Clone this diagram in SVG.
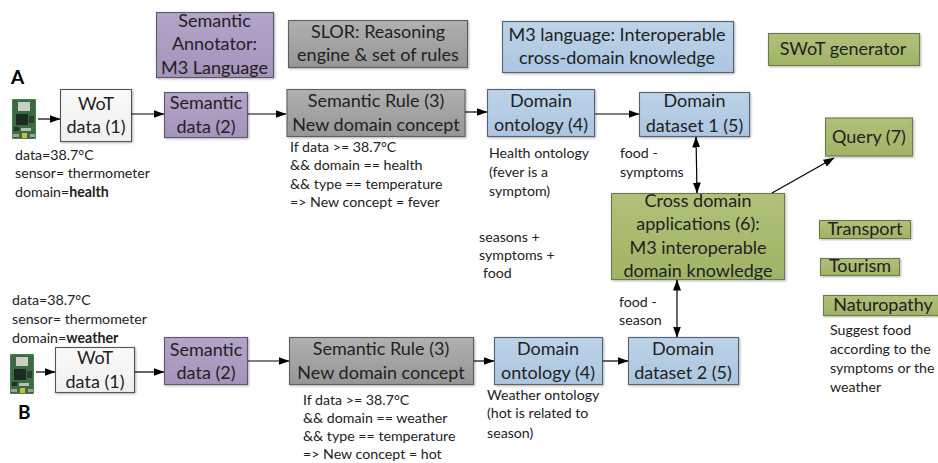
<svg xmlns="http://www.w3.org/2000/svg" width="938" height="463" viewBox="0 0 938 463">
<defs>
<marker id="ah" markerWidth="11" markerHeight="8" refX="10.500" refY="4" orient="auto-start-reverse" markerUnits="userSpaceOnUse"><path d="M0 0L11 4L0 8Z" fill="#000"/></marker>
<filter id="sh" x="-5%" y="-5%" width="112%" height="116%"><feDropShadow dx="1" dy="1" stdDeviation="0.8" flood-color="#000" flood-opacity="0.3"/></filter>
<linearGradient id="gw" x1="0" y1="0" x2="0" y2="1"><stop offset="0" stop-color="#fafafa"/><stop offset="1" stop-color="#f0f0f0"/></linearGradient>
<linearGradient id="gp" x1="0" y1="0" x2="0" y2="1"><stop offset="0" stop-color="#b3a4c9"/><stop offset="1" stop-color="#a494bb"/></linearGradient>
<linearGradient id="gg" x1="0" y1="0" x2="0" y2="1"><stop offset="0" stop-color="#b0b0b0"/><stop offset="1" stop-color="#969696"/></linearGradient>
<linearGradient id="gu" x1="0" y1="0" x2="0" y2="1"><stop offset="0" stop-color="#bcd3e9"/><stop offset="1" stop-color="#acc6e0"/></linearGradient>
<linearGradient id="go" x1="0" y1="0" x2="0" y2="1"><stop offset="0" stop-color="#b0c178"/><stop offset="1" stop-color="#a0b465"/></linearGradient>
<g id="sensor"><rect x="0" y="0" width="24" height="40" rx="1" fill="#4a7f4a"/><rect x="1" y="1" width="22" height="38" fill="#3a6b42"/><rect x="6" y="3" width="12" height="9" fill="#c9cfc4"/><rect x="4" y="15" width="12" height="11" fill="#1d2a22"/><rect x="17" y="17" width="5" height="7" fill="#26402c"/><rect x="2" y="28" width="5" height="4" fill="#20352a"/><rect x="9" y="29" width="10" height="3" fill="#b9bfb0"/><rect x="10" y="34" width="5" height="5" fill="#c9b84a"/><rect x="1" y="35" width="6" height="3" fill="#9aa690"/><rect x="18" y="35" width="5" height="3" fill="#9aa690"/></g>
</defs>
<style>
text{font-family:Lato,"Liberation Sans",sans-serif;fill:#222}
.b{stroke-width:1.1;filter:url(#sh)}
.w{fill:url(#gw);stroke:#555}
.p{fill:url(#gp);stroke:#5c5870}
.g{fill:url(#gg);stroke:#5f5f5f}
.u{fill:url(#gu);stroke:#56626e}
.o{fill:url(#go);stroke:#6c7a50}
.t{font-size:18px;text-anchor:middle}
.s{font-size:14.200px}
.h{font-size:19px;font-weight:700;fill:#000}
.c{stroke:#000;stroke-width:1.200;fill:none;marker-end:url(#ah)}
.d{marker-start:url(#ah)}
</style>
<g id="legend-annotator"><rect class="b p" x="156.500" y="12.500" width="117" height="65"/><text class="t" x="214.500" y="27">Semantic</text><text class="t" x="214.500" y="50">Annotator:</text><text class="t" x="214.500" y="74">M3 Language</text></g>
<g id="legend-slor"><rect class="b g" x="288.500" y="20.500" width="179" height="47"/><text class="t" x="378" y="38">SLOR: Reasoning</text><text class="t" x="378" y="61">engine &amp; set of rules</text></g>
<g id="legend-m3"><rect class="b u" x="502.500" y="21.500" width="231" height="51"/><text class="t" x="617" y="41">M3 language: Interoperable</text><text class="t" x="617" y="64">cross-domain knowledge</text></g>
<g id="legend-swot"><rect class="b o" x="768.500" y="33.500" width="151" height="32"/><text class="t" x="843" y="55">SWoT generator</text></g>

<text class="h" x="11" y="84">A</text>
<text class="h" x="18" y="419">B</text>
<use id="sensor-a" href="#sensor" x="12" y="99"/>
<use id="sensor-b" href="#sensor" x="10" y="354"/>

<g id="wot-a"><rect class="b w" x="60.500" y="89.500" width="71" height="52"/><text class="t" x="96" y="110">WoT</text><text class="t" x="96" y="133">data (1)</text></g>
<g id="sem-a"><rect class="b p" x="164.500" y="92.500" width="83" height="45"/><text class="t" x="206" y="109">Semantic</text><text class="t" x="206" y="133">data (2)</text></g>
<g id="rule-a"><rect class="b g" x="287" y="89.500" width="178" height="47"/><text class="t" x="376" y="107">Semantic Rule (3)</text><text class="t" x="376" y="131">New domain concept</text></g>
<g id="onto-a"><rect class="b u" x="487.500" y="89.500" width="107" height="47"/><text class="t" x="541" y="107">Domain</text><text class="t" x="541" y="131">ontology (4)</text></g>
<g id="dataset-a"><rect class="b u" x="639.500" y="92.500" width="110" height="44"/><text class="t" x="694.500" y="107">Domain</text><text class="t" x="694.500" y="132">dataset 1 (5)</text></g>
<g id="query"><rect class="b o" x="825.500" y="118" width="87" height="38"/><text class="t" x="869" y="143">Query (7)</text></g>
<g id="cross"><rect class="b o" x="611.500" y="193.500" width="173" height="86"/><text class="t" x="698" y="207">Cross domain</text><text class="t" x="698" y="230">applications (6):</text><text class="t" x="698" y="254">M3 interoperable</text><text class="t" x="698" y="277">domain knowledge</text></g>
<g id="transport"><rect class="b o" x="819.500" y="220.500" width="91" height="18"/><text class="t" x="865" y="235">Transport</text></g>
<g id="tourism"><rect class="b o" x="820.500" y="258.500" width="79" height="17"/><text class="t" x="860" y="272">Tourism</text></g>
<g id="naturopathy"><rect class="b o" x="823.500" y="295.500" width="116" height="20"/><text class="t" x="883" y="311">Naturopathy</text></g>

<g id="wot-b"><rect class="b w" x="55.500" y="347.500" width="79" height="45"/><text class="t" x="95" y="364">WoT</text><text class="t" x="95" y="388">data (1)</text></g>
<g id="sem-b"><rect class="b p" x="164.500" y="337.500" width="83" height="47"/><text class="t" x="206" y="356">Semantic</text><text class="t" x="206" y="379">data (2)</text></g>
<g id="rule-b"><rect class="b g" x="289.500" y="337.500" width="184" height="47"/><text class="t" x="381" y="355">Semantic Rule (3)</text><text class="t" x="381" y="379">New domain concept</text></g>
<g id="onto-b"><rect class="b u" x="494.500" y="337.500" width="108" height="47"/><text class="t" x="548" y="355">Domain</text><text class="t" x="548" y="379">ontology (4)</text></g>
<g id="dataset-b"><rect class="b u" x="628.500" y="337.500" width="110" height="47"/><text class="t" x="683" y="355">Domain</text><text class="t" x="683" y="379">dataset 2 (5)</text></g>

<g id="connectors">
<path class="c" d="M38 119H60"/><path class="c" d="M131 114H164"/><path class="c" d="M248 114H286"/><path class="c" d="M465 112H487"/><path class="c" d="M595 114H639"/>
<path class="c d" d="M696 137L697 193"/>
<path class="c" d="M772 193L834 158"/>
<path class="c d" d="M677 280V337"/>
<path class="c" d="M36 372H55"/><path class="c" d="M135 372H164"/><path class="c" d="M248 361H289"/><path class="c" d="M474 361H494"/><path class="c" d="M603 361H628"/>
</g>

<g id="notes" class="s">
<text x="15" y="160">data=38.7°C</text><text x="15" y="178">sensor= thermometer</text><text x="15" y="197">domain=<tspan font-weight="700">health</tspan></text>
<text x="290" y="152">If data &gt;= 38.7°C</text><text x="290" y="170">&amp;&amp; domain == health</text><text x="290" y="189">&amp;&amp; type == temperature</text><text x="290" y="207">=&gt; New concept = fever</text>
<text x="489" y="158">Health ontology</text><text x="489" y="177">(fever is a</text><text x="489" y="196">symptom)</text>
<text x="620" y="158">food -</text><text x="620" y="177">symptoms</text>
<text x="479" y="242">seasons +</text><text x="479" y="260">symptoms +</text><text x="483" y="278">food</text>
<text x="619" y="307">food -</text><text x="619" y="325">season</text>
<text x="12" y="305">data=38.7°C</text><text x="12" y="324">sensor= thermometer</text><text x="12" y="343">domain=<tspan font-weight="700">weather</tspan></text>
<text x="303" y="405">If data &gt;= 38.7°C</text><text x="303" y="423">&amp;&amp; domain == weather</text><text x="303" y="441">&amp;&amp; type == temperature</text><text x="303" y="459">=&gt; New concept = hot</text>
<text x="487" y="400">Weather ontology</text><text x="487" y="418">(hot is related to</text><text x="487" y="438">season)</text>
<text x="830" y="335">Suggest food</text><text x="830" y="354">according to the</text><text x="830" y="373">symptoms or the</text><text x="830" y="392">weather</text>
</g>
</svg>
